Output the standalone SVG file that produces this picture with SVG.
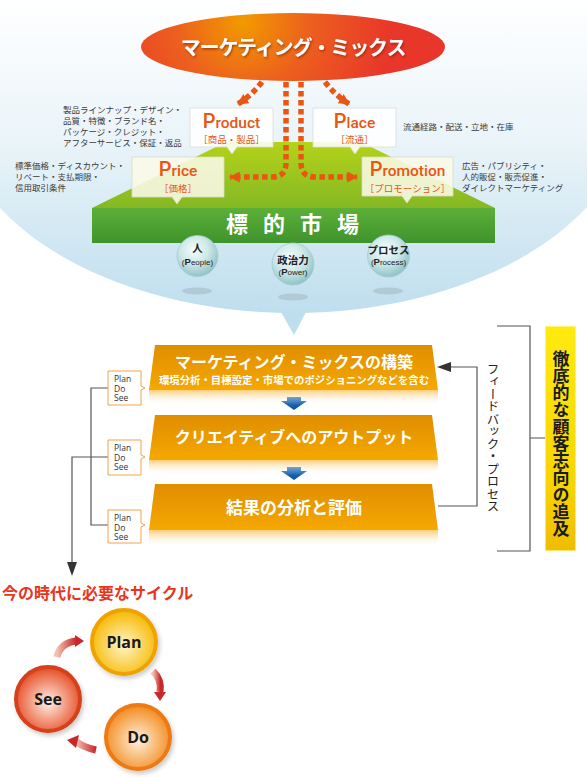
<svg xmlns="http://www.w3.org/2000/svg" width="587" height="777" viewBox="0 0 587 777">
<style>
.jp{font-family:"Noto Sans CJK JP","Noto Sans",sans-serif}
.desc{font-family:"Noto Sans CJK JP",sans-serif;font-size:8.5px;fill:#3a3a3a}
.ttl{font-family:Roboto,"Liberation Sans",sans-serif;font-weight:500;fill:#ea5514;font-size:15.5px}
.big{font-size:20px}
.sub{font-family:"Noto Sans CJK JP",sans-serif;font-size:9.5px;fill:#ea5514}
.dot{fill:none;stroke:#ea5514;stroke-width:5.5;stroke-dasharray:5.5 3.5}
.pds{fill:#fff;stroke:#f5a04a;stroke-width:1}
.pdt{font-family:"Open Sans","Liberation Sans",sans-serif;font-size:8.5px;fill:#333}
.ln{fill:none;stroke:#555;stroke-width:1.2}
.sph{fill:url(#sphG);stroke:#a3cdd0;stroke-width:.8}
.sphs{fill:#9fb4bd;opacity:.5}
.sl{font-family:"Noto Sans CJK JP",sans-serif;font-weight:700;font-size:10.5px;fill:#222;text-anchor:middle}
.sl2{font-family:"Liberation Sans",sans-serif;font-size:8px;fill:#222;text-anchor:middle}
.fw{font-family:"Noto Sans CJK JP",sans-serif;font-weight:700;fill:#fff;text-anchor:middle}
.cyc{font-family:"Open Sans","Liberation Sans",sans-serif;font-weight:700;fill:#1a1a1a;text-anchor:middle}
.blue{fill:url(#blueG)}
</style>
<defs>
<linearGradient id="bgG" gradientUnits="userSpaceOnUse" x1="0" y1="0" x2="0" y2="313">
<stop offset="0" stop-color="#ffffff"/><stop offset="0.45" stop-color="#eaf4f9"/><stop offset="1" stop-color="#bfdeee"/>
</linearGradient>
<radialGradient id="redG" gradientUnits="userSpaceOnUse" cx="243" cy="22" r="150">
<stop offset="0" stop-color="#f29a00"/><stop offset="0.45" stop-color="#ec5f1e"/><stop offset="1" stop-color="#e8362a"/>
</radialGradient>
<linearGradient id="topG" x1="0" y1="0" x2="0" y2="1">
<stop offset="0" stop-color="#b4d31a"/><stop offset="1" stop-color="#84b823"/>
</linearGradient>
<linearGradient id="frontG" x1="0" y1="0" x2="0" y2="1">
<stop offset="0" stop-color="#5cb038"/><stop offset="1" stop-color="#3f932c"/>
</linearGradient>
<radialGradient id="sphG" cx="0.42" cy="0.35" r="0.7">
<stop offset="0" stop-color="#f6fcfc"/><stop offset="0.5" stop-color="#cde7e8"/><stop offset="1" stop-color="#86bec2"/>
</radialGradient>
<linearGradient id="boxG" x1="0" y1="0" x2="0" y2="1">
<stop offset="0" stop-color="#e08e00"/><stop offset="1" stop-color="#f5a800"/>
</linearGradient>
<linearGradient id="reflG" x1="0" y1="0" x2="0" y2="1">
<stop offset="0" stop-color="#f7b840" stop-opacity="0.7"/><stop offset="1" stop-color="#ffffff" stop-opacity="0"/>
</linearGradient>
<linearGradient id="blueG" x1="0" y1="0" x2="0" y2="1">
<stop offset="0" stop-color="#2c7fd0"/><stop offset="1" stop-color="#0a4f9e"/>
</linearGradient>
<linearGradient id="yelG" x1="0" y1="0" x2="0" y2="1">
<stop offset="0" stop-color="#ffea10"/><stop offset="0.7" stop-color="#f8d400"/><stop offset="1" stop-color="#f0bc00"/>
</linearGradient>
<radialGradient id="planG" cx="0.5" cy="0.55" r="0.55">
<stop offset="0" stop-color="#fff6c8"/><stop offset="1" stop-color="#f6b800"/>
</radialGradient>
<radialGradient id="doG" cx="0.5" cy="0.55" r="0.55">
<stop offset="0" stop-color="#fff0dc"/><stop offset="1" stop-color="#f28a1c"/>
</radialGradient>
<radialGradient id="seeG" cx="0.5" cy="0.55" r="0.55">
<stop offset="0" stop-color="#fff0e6"/><stop offset="1" stop-color="#e64a22"/>
</radialGradient>
<linearGradient id="arrG" x1="0" y1="0" x2="1" y2="0">
<stop offset="0" stop-color="#f4c0b0"/><stop offset="1" stop-color="#c8282a"/>
</linearGradient>
<filter id="tsh" x="-10%" y="-30%" width="120%" height="160%">
<feDropShadow dx="1" dy="1.5" stdDeviation="1" flood-color="#7a1a00" flood-opacity="0.6"/>
</filter>
<filter id="csh" x="-30%" y="-30%" width="160%" height="160%">
<feDropShadow dx="2" dy="3" stdDeviation="2" flood-color="#000" flood-opacity="0.2"/>
</filter>
<marker id="oh" viewBox="0 0 10 10" refX="9" refY="5" markerWidth="11" markerHeight="11" markerUnits="userSpaceOnUse" orient="auto">
<path d="M0,0 L10,5 L0,10 z" fill="#ea5514"/>
</marker>
</defs>

<rect width="587" height="777" fill="#fff"/>
<g id="background">
<ellipse cx="293" cy="100" rx="340" ry="213" fill="url(#bgG)"/>
<polygon points="281,312 306,312 294,335" fill="#bedeee"/>
</g>

<g id="mix">
<ellipse cx="293" cy="47" rx="152" ry="34" fill="url(#redG)"/>
<text x="293" y="55" class="fw" font-size="20" letter-spacing="-1.1" filter="url(#tsh)">マーケティング・ミックス</text>
</g>

<g id="market">
<polygon points="226,142 361,142 495,208 92,208" fill="url(#topG)"/>
<rect x="92" y="208" width="403" height="35" fill="url(#frontG)"/>
<text x="293" y="232" class="fw" font-size="22" letter-spacing="15" dx="7">標的市場</text>
</g>

<g id="connectors">
<path class="dot" d="M262,82 Q252,95 238,104" marker-end="url(#oh)"/>
<path class="dot" d="M325,82 Q335,95 349,104" marker-end="url(#oh)"/>
<path class="dot" d="M286,82 V163 Q286,177 272,177 H230" marker-end="url(#oh)"/>
<path class="dot" d="M301,82 V163 Q301,177 315,177 H357" marker-end="url(#oh)"/>
<path class="ln" d="M108,388 H91 V525 H108"/>
<path class="ln" d="M108,457 H72 V564"/>
<polygon points="67,562 77,562 72,576" fill="#333"/>
<path class="ln" d="M438,506 H477 V367 H449"/>
<polygon points="437,367 451,362 451,372" fill="#333"/>
<path class="ln" d="M497,326 H530 V551 H497 M530,438 H545"/>
<polygon class="blue" points="287,397 301,397 301,401 307,401 294,410 281,401 287,401"/>
<polygon class="blue" points="287,467 301,467 301,471 307,471 294,480 281,471 287,471"/>
</g>

<g id="product">
<path d="M190,108 H273 V147 H237 L232,154 L227,147 H190 Z" fill="#fff" fill-opacity="0.88" stroke="#dcdcd4" stroke-width="0.8"/>
<text x="231.5" y="128" class="ttl" text-anchor="middle"><tspan class="big">P</tspan>roduct</text>
<text x="231.5" y="143" class="sub" text-anchor="middle">［商品・製品］</text>
<text class="desc"><tspan x="63" y="113">製品ラインナップ・デザイン・</tspan><tspan x="63" y="124">品質・特徴・ブランド名・</tspan><tspan x="63" y="135">パッケージ・クレジット・</tspan><tspan x="63" y="146">アフターサービス・保証・返品</tspan></text>
</g>

<g id="place">
<path d="M313,108 H396 V147 H360 L355,154 L350,147 H313 Z" fill="#fff" fill-opacity="0.88" stroke="#dcdcd4" stroke-width="0.8"/>
<text x="354.5" y="128" class="ttl" text-anchor="middle"><tspan class="big">P</tspan>lace</text>
<text x="354.5" y="143" class="sub" text-anchor="middle">［流通］</text>
<text x="403" y="130" class="desc">流通経路・配送・立地・在庫</text>
</g>

<g id="price">
<path d="M132,157 H224 V197 H182 L177,204 L172,197 H132 Z" fill="#fbf9e8" fill-opacity="0.88" stroke="#dcdcc4" stroke-width="0.8"/>
<text x="178" y="176" class="ttl" text-anchor="middle"><tspan class="big">P</tspan>rice</text>
<text x="178" y="192" class="sub" text-anchor="middle">［価格］</text>
<text class="desc"><tspan x="15" y="169">標準価格・ディスカウント・</tspan><tspan x="15" y="180">リベート・支払期限・</tspan><tspan x="15" y="191">信用取引条件</tspan></text>
</g>

<g id="promotion">
<path d="M362,157 H453 V196 H412 L407,203 L402,196 H362 Z" fill="#fbf9e8" fill-opacity="0.88" stroke="#dcdcc4" stroke-width="0.8"/>
<text x="407.5" y="176" class="ttl" text-anchor="middle"><tspan class="big">P</tspan>romotion</text>
<text x="407.5" y="192" class="sub" text-anchor="middle">［プロモーション］</text>
<text class="desc"><tspan x="462" y="169">広告・パブリシティ・</tspan><tspan x="462" y="180">人的販促・販売促進・</tspan><tspan x="462" y="191">ダイレクトマーケティング</tspan></text>
</g>

<g id="people">
<ellipse class="sphs" cx="197" cy="291" rx="15" ry="3.5"/>
<circle class="sph" cx="197.5" cy="256" r="20.5"/>
<text x="197.5" y="252" class="sl" font-size="12">人</text>
<text x="197.5" y="265" class="sl2">(<tspan font-weight="700" font-size="9.5">P</tspan>eople)</text>
</g>
<g id="power">
<ellipse class="sphs" cx="293" cy="297" rx="15" ry="3.5"/>
<circle class="sph" cx="293" cy="264" r="21"/>
<text x="293" y="264" class="sl">政治力</text>
<text x="293" y="275" class="sl2">(<tspan font-weight="700" font-size="9.5">P</tspan>ower)</text>
</g>
<g id="process">
<ellipse class="sphs" cx="388" cy="291" rx="15" ry="3.5"/>
<circle class="sph" cx="388.5" cy="256" r="21"/>
<text x="388.5" y="254" class="sl">プロセス</text>
<text x="388.5" y="265" class="sl2">(<tspan font-weight="700" font-size="9.5">P</tspan>rocess)</text>
</g>

<g id="step1">
<path d="M155,345 H432 L438,390 H149 Z" fill="url(#boxG)"/>
<rect x="149" y="390" width="289" height="15" fill="url(#reflG)"/>
<text x="294" y="368" class="fw" font-size="16">マーケティング・ミックスの構築</text>
<text x="294" y="384" class="fw" font-size="10.4" font-weight="400">環境分析・目標設定・市場でのポジショニングなどを含む</text>
</g>
<g id="step2">
<path d="M155,415 H432 L438,460 H149 Z" fill="url(#boxG)"/>
<rect x="149" y="460" width="289" height="15" fill="url(#reflG)"/>
<text x="294" y="443" class="fw" font-size="16">クリエイティブへのアウトプット</text>
</g>
<g id="step3">
<path d="M155,484 H432 L438,530 H149 Z" fill="url(#boxG)"/>
<rect x="149" y="530" width="289" height="17" fill="url(#reflG)"/>
<text x="294" y="514" class="fw" font-size="17">結果の分析と評価</text>
</g>

<g id="pds1">
<path class="pds" d="M108,371 H141 V386 L145,388 L141,390 V405 H108 Z"/>
<text class="pdt"><tspan x="114" y="382">Plan</tspan><tspan x="114" y="391.5">Do</tspan><tspan x="114" y="401">See</tspan></text>
</g>
<g id="pds2">
<path class="pds" d="M108,440 H141 V455 L145,457 L141,459 V475 H108 Z"/>
<text class="pdt"><tspan x="114" y="451">Plan</tspan><tspan x="114" y="460.5">Do</tspan><tspan x="114" y="470">See</tspan></text>
</g>
<g id="pds3">
<path class="pds" d="M108,510 H141 V523 L145,525 L141,527 V543 H108 Z"/>
<text class="pdt"><tspan x="114" y="521">Plan</tspan><tspan x="114" y="530.5">Do</tspan><tspan x="114" y="540">See</tspan></text>
</g>

<g id="feedback">
<text x="493" y="437.5" class="jp" font-size="12.5" fill="#222" text-anchor="middle" style="writing-mode:vertical-rl">フィードバック・プロセス</text>
</g>

<g id="customer">
<rect x="545" y="326" width="31" height="225" fill="url(#yelG)"/>
<rect x="545.5" y="326.5" width="30" height="224" fill="none" stroke="#fff6a0" stroke-width="1" opacity="0.7"/>
<text x="561" y="444" class="jp" font-size="17" font-weight="700" fill="#1a1a1a" text-anchor="middle" style="writing-mode:vertical-rl">徹底的な顧客志向の追及</text>
</g>

<g id="cycle-title">
<text x="2" y="599" class="jp" font-size="16" font-weight="700" fill="#e8361e">今の時代に必要なサイクル</text>
</g>

<g id="cycle-arrows">
<path d="M57,657 Q60,643 76,641" fill="none" stroke="url(#arrG)" stroke-width="7"/>
<polygon points="75,635 84,641 75,647" fill="#c8282a"/>
<path d="M153,671 Q162,680 160,692" fill="none" stroke="url(#arrG)" stroke-width="7"/>
<polygon points="154,692 166,692 160,701" fill="#c8282a"/>
<path d="M96,750 Q82,747 76,741" fill="none" stroke="url(#arrG)" stroke-width="7"/>
<polygon points="79,735 67,740 76,748" fill="#c8282a"/>
</g>

<g id="plan">
<circle cx="124" cy="642" r="32" fill="url(#planG)" stroke="#efa200" stroke-width="4" filter="url(#csh)"/>
<text x="124" y="648" class="cyc" font-size="16">Plan</text>
</g>
<g id="see">
<circle cx="48" cy="699" r="32" fill="url(#seeG)" stroke="#d6401a" stroke-width="4" filter="url(#csh)"/>
<text x="48" y="705" class="cyc" font-size="16">See</text>
</g>
<g id="do">
<circle cx="138" cy="737" r="32" fill="url(#doG)" stroke="#ee7a12" stroke-width="4" filter="url(#csh)"/>
<text x="138" y="743" class="cyc" font-size="16">Do</text>
</g>
</svg>
